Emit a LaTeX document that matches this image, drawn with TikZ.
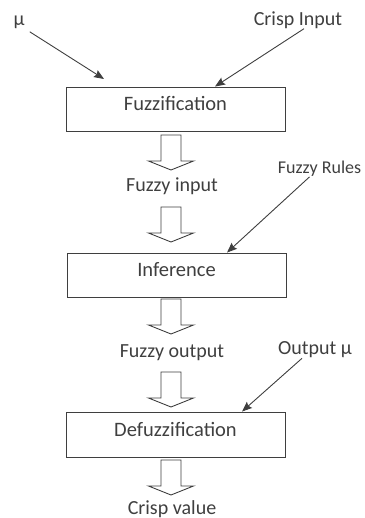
\documentclass[tikz,border=0pt]{standalone}
\usepackage{fontspec}
\setmainfont{Carlito}
\usetikzlibrary{arrows.meta}

\definecolor{ink}{HTML}{3F3F3F}

\begin{document}
\begin{tikzpicture}[x=1pt,y=-1pt,
    stage_box/.style={draw=ink,line width=0.9pt,minimum width=219pt,minimum height=44pt,inner sep=0pt,text=ink,font=\fontsize{20.5}{24}\selectfont,text height=13pt,text depth=10pt},
    flow_label/.style={text=ink,font=\fontsize{20}{24}\selectfont,inner sep=0pt},
    small_label/.style={text=ink,font=\fontsize{18}{22}\selectfont,inner sep=0pt},
    input_arrow/.style={draw=ink,line width=0.9pt,-{Stealth[length=10pt,width=8pt,inset=1.5pt]}},
    hollow_arrow/.pic={\draw[draw=ink,line width=0.9pt,fill=white] (-10,0) -- (10,0) -- (10,26) -- (22.5,26) -- (0,35) -- (-22.5,26) -- (-10,26) -- cycle;}]
  \useasboundingbox (0,0) rectangle (364,518);
\node[stage_box] (fuzz) at (175.50,109.00) {Fuzzification};
\node[stage_box] (infer) at (176.50,275.00) {Inference};
\node[stage_box,minimum height=45pt] (defuzz) at (175.50,434.50) {Defuzzification};
\node[flow_label] (mu_in) at (19.00,22.00) {µ};
\node[flow_label] (crisp_in) at (298.00,20.00) {Crisp Input};
\node[flow_label] (fuzzy_in) at (172.00,186.00) {Fuzzy input};
\node[small_label] (rules) at (319.50,169.00) {Fuzzy Rules};
\node[flow_label] (fuzzy_out) at (172.00,353.00) {Fuzzy output};
\node[flow_label] (out_mu) at (315.00,350.00) {Output µ};
\node[flow_label] (crisp_out) at (172.00,509.00) {Crisp value};
  % thin input arrows
  \coordinate (mu_head) at (104.00,79.00);
  \draw[input_arrow,shorten <=6pt] (mu_in.south east) -- (mu_head);
  \draw[input_arrow] ([xshift=6pt]crisp_in.south) -- ([xshift=39.5pt]fuzz.north);
  \draw[input_arrow] ([xshift=-10pt]rules.south) -- ([xshift=50.5pt]infer.north);
  \draw[input_arrow] ([xshift=-13pt]out_mu.south) -- ([xshift=66.5pt]defuzz.north);
  % hollow flow arrows between the stages
  \pic at (171.00,135.00) {hollow_arrow};
  \pic at (171.00,207.00) {hollow_arrow};
  \pic at (171.00,299.00) {hollow_arrow};
  \pic at (171.00,372.00) {hollow_arrow};
  \pic at (171.00,460.00) {hollow_arrow};
\end{tikzpicture}
\end{document}
